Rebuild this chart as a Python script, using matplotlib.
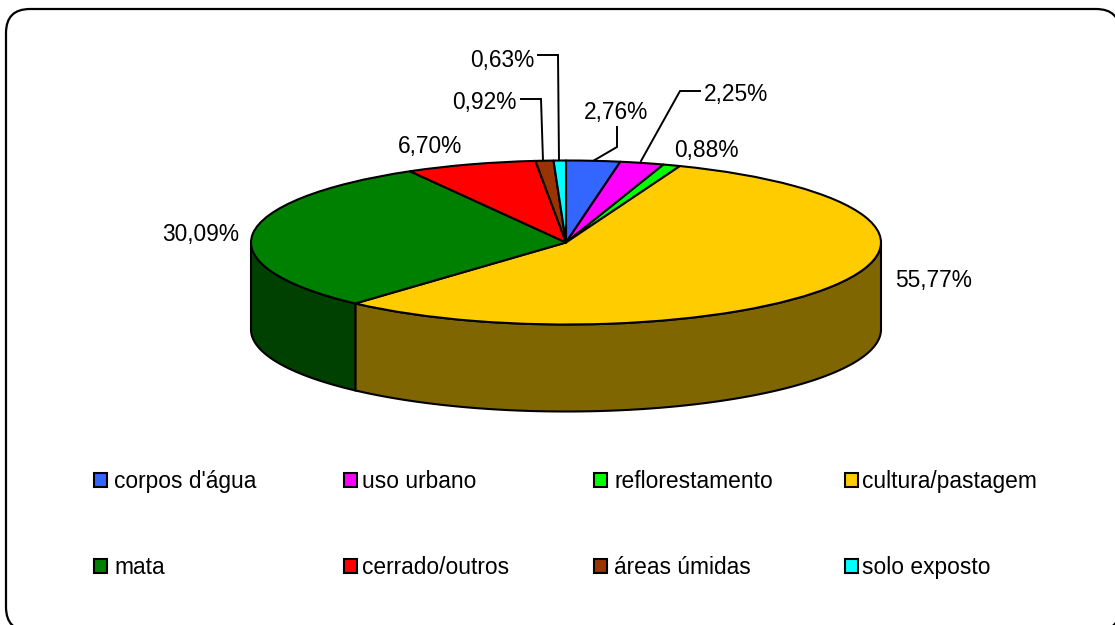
import numpy as np
import matplotlib
matplotlib.use("Agg")
import matplotlib.pyplot as plt
from matplotlib.patches import FancyBboxPatch, Polygon, Patch
from matplotlib.colors import to_rgb

plt.rcParams['font.family'] = ['Liberation Sans', 'DejaVu Sans']

categories = ["corpos d'água", "uso urbano", "reflorestamento", "cultura/pastagem",
              "mata", "cerrado/outros", "áreas úmidas", "solo exposto"]
values = [2.76, 2.25, 0.88, 55.77, 30.09, 6.70, 0.92, 0.63]
colors = ["#3366FF", "#FF00FF", "#00FF00", "#FFCC00", "#008000", "#FF0000", "#993300", "#00FFFF"]
label_pos = [(616, 112), (736, 94), (706, 150), (934, 281), (201, 234), (430, 146), (484, 102), (502, 60)]
leaders = [[(617, 127), (617, 147), (593, 161)],
           [(700, 91), (680, 91), (641, 161)],
           [(521, 99), (541, 99), (543, 161)],
           [(538, 55), (558, 55), (559, 161)]]
FS = 16.4
W, H = 1115, 625

fig = plt.figure(figsize=(W / 100, H / 100), dpi=100, facecolor='white')
bg = fig.add_axes([0, 0, 1, 1])
bg.set_xlim(0, W)
bg.set_ylim(H, 0)
bg.axis('off')

bg.add_patch(FancyBboxPatch((6, 9), 1114, 622, boxstyle="round,pad=0,rounding_size=24",
                            fc='white', ec='black', lw=1.6))

# pie: unit circle squashed by the axes box
cx, cy, rx, ry, depth_px, pad = 566, 242.5, 315, 82, 87, 6
depth = depth_px / ry
ax = fig.add_axes([(cx - rx - pad) / W, 1 - (cy + ry + depth_px + pad) / H,
                   (2 * rx + 2 * pad) / W, (2 * ry + depth_px + 2 * pad) / H])
wedges, _ = ax.pie(values, colors=colors, startangle=90, counterclock=False, radius=1,
                   wedgeprops=dict(edgecolor='black', linewidth=1.5, joinstyle='round', zorder=5))
ax.set_aspect('auto')
ax.set_xlim(-1 - pad / rx, 1 + pad / rx)
ax.set_ylim(-1 - depth - pad / ry, 1 + pad / ry)

edges = 2 * np.pi * np.concatenate([[0], np.cumsum(values)]) / sum(values)
for a0, a1, col in zip(edges[:-1], edges[1:], colors):
    lo, hi = max(a0, np.pi / 2), min(a1, 3 * np.pi / 2)
    if hi <= lo:
        continue
    t = np.linspace(lo, hi, 200)
    x, y = np.sin(t), np.cos(t)
    pts = np.r_[np.c_[x, y], np.c_[x, y - depth][::-1]]
    dark = tuple(c * 0.5 for c in to_rgb(col))
    ax.add_patch(Polygon(pts, closed=True, fc=dark, ec='black', lw=1.5, zorder=2))

# labels and leader lines
for v, (lx, ly) in zip(values, label_pos):
    bg.text(lx, ly, f"{v:.2f}%".replace('.', ','), fontsize=FS, ha='center', va='center', color='black')
for seg in leaders:
    xs, ys = zip(*seg)
    bg.plot(xs, ys, color='black', lw=1.4, solid_joinstyle='miter')

# legend: one two-row legend per column
col_x = [94, 344, 594, 845]
col_pad = [0.32, 0.23, 0.32, 0.17]
for i, (x0, tp) in enumerate(zip(col_x, col_pad)):
    handles = [Patch(fc=colors[j], ec='black', lw=1.5, label=categories[j]) for j in (i, i + 4)]
    leg = bg.legend(handles=handles, loc='upper left', bbox_to_anchor=(x0, 470),
                    bbox_transform=bg.transData, frameon=False, fontsize=FS, ncol=1,
                    borderpad=0, borderaxespad=0, handlelength=0.58, handleheight=0.6,
                    handletextpad=tp, labelspacing=2.775, labelcolor='black')
    if i < len(col_x) - 1:
        bg.add_artist(leg)

fig.savefig('out.png', dpi=100, facecolor='white')
